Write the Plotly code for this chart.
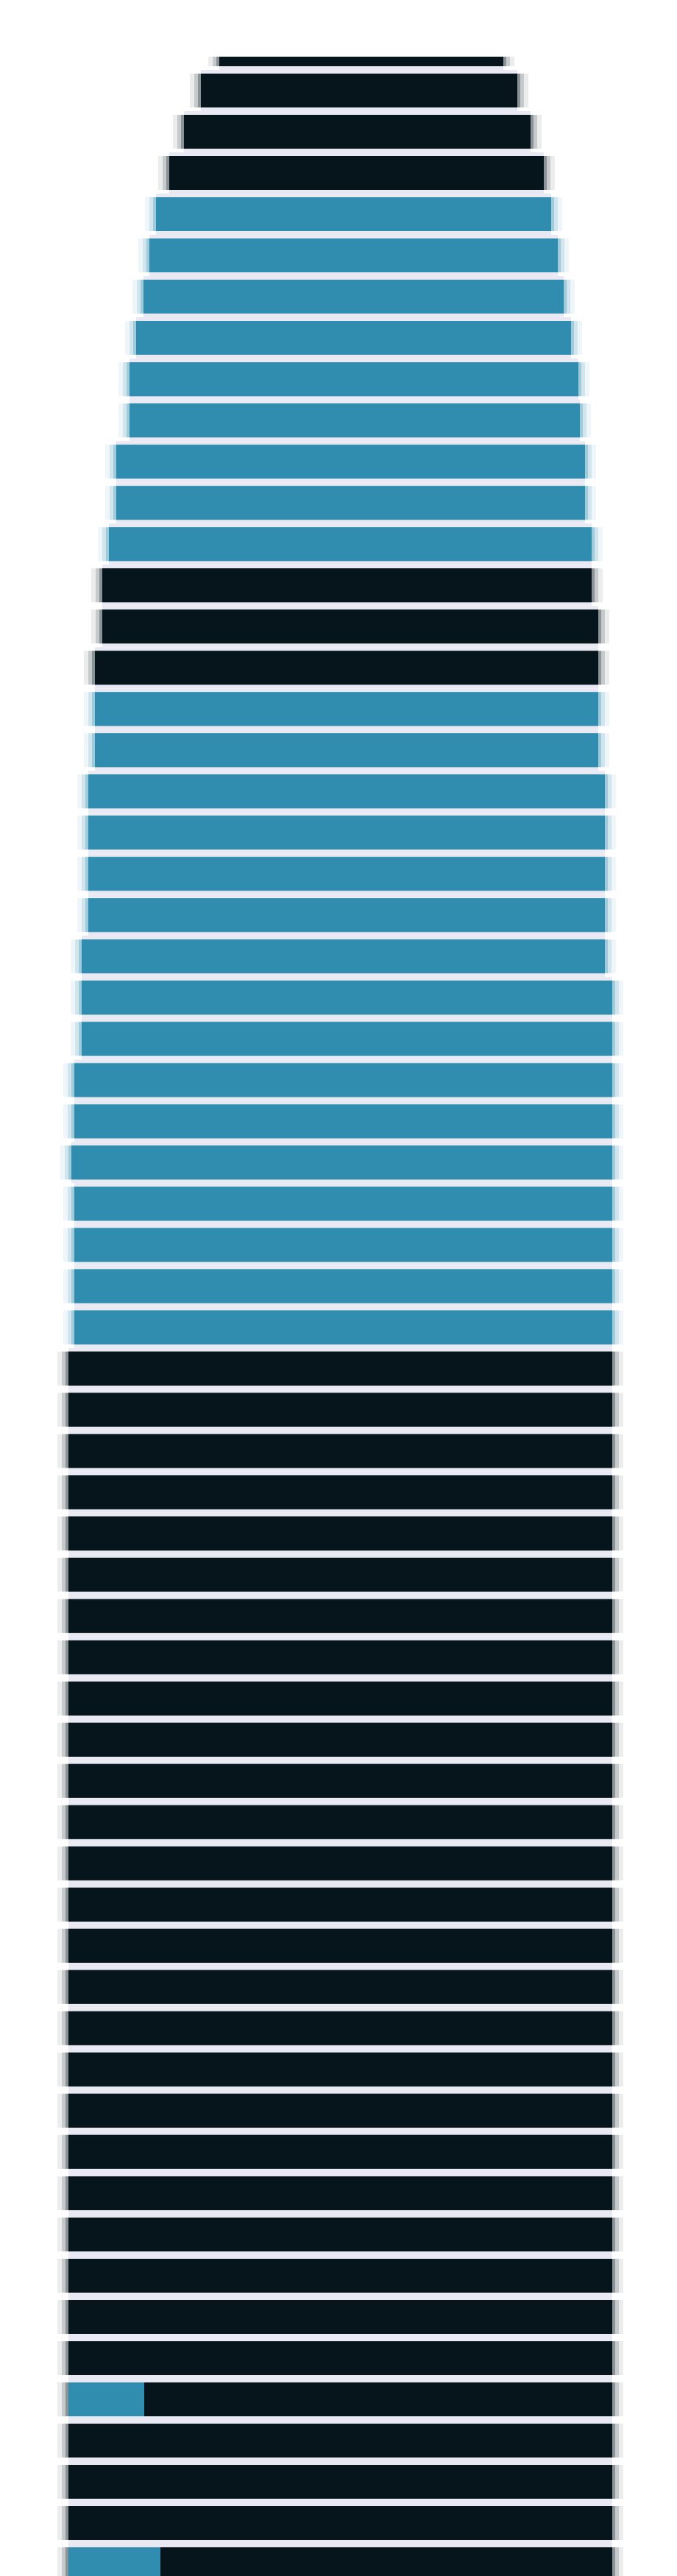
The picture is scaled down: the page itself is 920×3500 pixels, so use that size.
import plotly.graph_objects as go

# ---------------- data ----------------
rows = [f"Stage {i + 1}" for i in range(62)]

start = [-162, -187, -210, -230, -248, -257, -265, -275, -284, -284,
         -302, -302, -312, -321, -321, -331, -331, -331, -340, -340,
         -340, -340, -349, -349, -349, -359, -359, -363, -359, -359,
         -359, -359, -367, -367, -367, -367, -367, -367, -367, -367,
         -367, -367, -367, -367, -367, -367, -367, -367, -367, -367,
         -367, -367, -367, -367, -367, -367, -367, -367, -367, -367,
         -367, -367]

blue = [0, 0, 0, 0, 537, 555, 571, 591, 610, 612,
        637, 637, 656, 0, 0, 0, 684, 684, 702, 702,
        702, 702, 711, 721, 721, 731, 731, 735, 731, 731,
        731, 731, 0, 0, 0, 0, 0, 0, 0, 0,
        0, 0, 0, 0, 0, 0, 0, 0, 0, 0,
        0, 0, 0, 0, 0, 0, 0, 103, 0, 0,
        0, 125]

dark = [386, 430, 471, 509, 0, 0, 0, 0, 0, 0,
        0, 0, 0, 665, 674, 684, 0, 0, 0, 0,
        0, 0, 0, 0, 0, 0, 0, 0, 0, 0,
        0, 0, 739, 739, 739, 739, 739, 739, 739, 739,
        739, 739, 739, 739, 739, 739, 739, 739, 739, 739,
        739, 739, 739, 739, 739, 739, 739, 636, 739, 739,
        739, 614]

# ---------------- styling ----------------
DARK = "#06151c"
BLUE = "#318db0"
GAP = "#e8e9f2"

total = [b + d for b, d in zip(blue, dark)]
dark_base = [s + b for s, b in zip(start, blue)]
edge_col = [BLUE if b > d else DARK for b, d in zip(blue, dark)]

fig = go.Figure()

# connector band behind each row
fig.add_trace(go.Bar(y=rows, x=total, base=start, orientation="h", width=1.0,
                     marker=dict(color=GAP, line=dict(width=0)),
                     hoverinfo="skip", showlegend=False))

# soft edge shading
def rgba(hexc, a):
    h = hexc.lstrip("#")
    r, g, b = int(h[0:2], 16), int(h[2:4], 16), int(h[4:6], 16)
    return f"rgba({r},{g},{b},{a})"

for ext, alpha in [(15, 0.08), (9, 0.16), (4, 0.3)]:
    fig.add_trace(go.Bar(y=rows, x=[t + 2 * ext for t in total],
                         base=[s - ext for s in start], orientation="h", width=0.821,
                         marker=dict(color=[rgba(c, alpha) for c in edge_col], line=dict(width=0)),
                         hoverinfo="skip", showlegend=False))

fig.add_trace(go.Bar(y=rows, x=blue, base=start, orientation="h", width=0.821,
                     name="Blue", marker=dict(color=BLUE, line=dict(width=0)),
                     showlegend=False))
fig.add_trace(go.Bar(y=rows, x=dark, base=dark_base, orientation="h", width=0.821,
                     name="Dark", marker=dict(color=DARK, line=dict(width=0)),
                     showlegend=False))

fig.update_layout(
    width=904, height=3492,
    margin=dict(l=0, r=0, t=69, b=0),
    barmode="overlay",
    paper_bgcolor="white", plot_bgcolor="white",
    showlegend=False,
    xaxis=dict(range=[-452, 452], visible=False, showgrid=False, zeroline=False),
    yaxis=dict(type="category", range=[61.285, 0.1785], visible=False,
               showgrid=False, zeroline=False),
)

fig.write_html("out.html")
